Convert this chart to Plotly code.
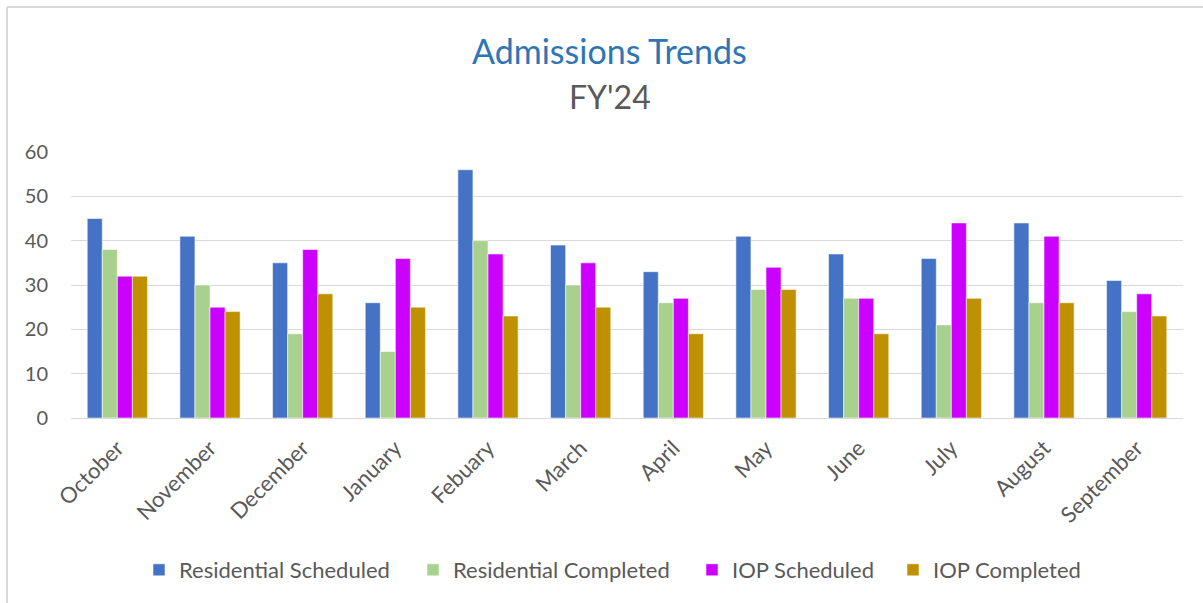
import plotly.graph_objects as go

months = ["October", "November", "December", "January", "Febuary", "March",
          "April", "May", "June", "July", "August", "September"]
res_sched = [45, 41, 35, 26, 56, 39, 33, 41, 37, 36, 44, 31]
res_comp = [38, 30, 19, 15, 40, 30, 26, 29, 27, 21, 26, 24]
iop_sched = [32, 25, 38, 36, 37, 35, 27, 34, 27, 44, 41, 28]
iop_comp = [32, 24, 28, 25, 23, 25, 19, 29, 19, 27, 26, 23]

series_names = ["Residential Scheduled", "Residential Completed", "IOP Scheduled", "IOP Completed"]
series_values = [res_sched, res_comp, iop_sched, iop_comp]
series_colors = ["#4472C4", "#A9D18E", "#CC00FF", "#BF9000"]
legend_ids = ["legend", "legend2", "legend3", "legend4"]
legend_text_px = [175, 449, 728, 929]

FONT = "Lato, 'Open Sans', sans-serif"
GREY = "#595959"

W, H = 1203, 603
ml, mr, mt, mb = 71, 20, 152, 185
pw, ph = W - ml - mr, H - mt - mb


def px2x(px):
    return (px - ml) / pw


def px2y(py):
    return (H - mb - py) / ph


fig = go.Figure()
for name, vals, col, lid in zip(series_names, series_values, series_colors, legend_ids):
    fig.add_trace(go.Bar(
        x=months, y=vals, name=name, legend=lid,
        marker=dict(color=col, line=dict(color="rgba(255,255,255,0.55)", width=1)),
    ))

legends = {}
for lid, tx in zip(legend_ids, legend_text_px):
    legends[lid] = dict(orientation="h", x=px2x(tx + 4 - 40), xanchor="left",
                        y=px2y(570), yanchor="middle",
                        font=dict(size=22, color=GREY, family=FONT),
                        itemwidth=30, bgcolor="rgba(0,0,0,0)")

fig.update_layout(
    width=W, height=H,
    margin=dict(l=ml, r=mr, t=mt, b=mb),
    paper_bgcolor="white", plot_bgcolor="white",
    barmode="group", bargap=0.35, bargroupgap=0,
    font=dict(family=FONT, color=GREY, size=20),
    showlegend=True,
    annotations=[
        dict(text="Admissions Trends", x=px2x(609), y=px2y(50), xref="paper", yref="paper",
             showarrow=False, font=dict(size=34, color="#2E75B6", family=FONT),
             xanchor="center", yanchor="middle"),
        dict(text="FY'24", x=px2x(610), y=px2y(96), xref="paper", yref="paper",
             showarrow=False, font=dict(size=32, color=GREY, family=FONT),
             xanchor="center", yanchor="middle"),
    ],
    shapes=[
        dict(type="line", xref="paper", yref="paper",
             x0=px2x(7), x1=px2x(1210), y0=px2y(7), y1=px2y(7),
             line=dict(color="#D9D9D9", width=2), layer="below"),
        dict(type="line", xref="paper", yref="paper",
             x0=px2x(7), x1=px2x(7), y0=px2y(7), y1=px2y(610),
             line=dict(color="#D9D9D9", width=2), layer="below"),
    ],
    **legends,
)
fig.update_yaxes(range=[0, 60], dtick=10, showgrid=True, gridcolor="#D9D9D9", gridwidth=1,
                 zeroline=True, zerolinecolor="#D9D9D9", zerolinewidth=1,
                 tickfont=dict(size=20, color=GREY), ticklabelstandoff=22)
fig.update_xaxes(tickangle=-45, tickfont=dict(size=22, color=GREY), showline=False,
                 ticks="", ticklabelstandoff=12)

fig.write_html("out.html", config={"displayModeBar": False},
               post_script="document.body.style.margin='0px';")
